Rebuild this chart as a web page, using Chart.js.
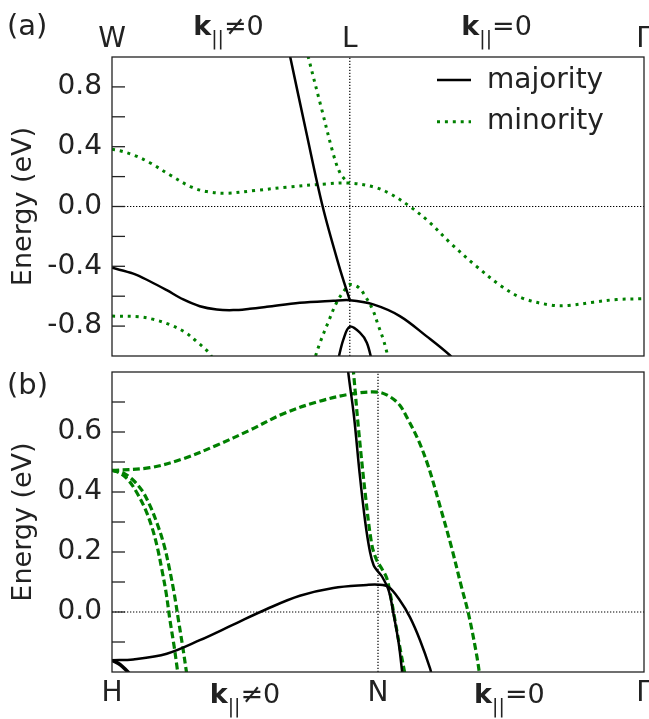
<!DOCTYPE html>
<html>
<head>
<meta charset="utf-8">
<script src="https://cdn.jsdelivr.net/npm/chart.js@4.4.1/dist/chart.umd.min.js"></script>
<style>
  html, body { margin: 0; padding: 0; background: #fff; }
  #wrap { position: relative; width: 649px; height: 719px; }
  .box { position: absolute; left: 0; width: 649px; }
  #boxA { top: 0; height: 362px; }
  #boxB { top: 362px; height: 357px; }
</style>
</head>
<body>
<div id="wrap">
  <div class="box" id="boxA"><canvas id="chartA"></canvas></div>
  <div class="box" id="boxB"><canvas id="chartB"></canvas></div>
</div>
<script>
// ---- panel (a): W - L - Gamma ----
const tickPosA = [0, 0.447, 1];
const tickTextA = ['W', 'L', 'Γ'];
const kLabelPosA = [0.219, 0.723];

// majority bands (k, E in eV)
const aMajLow = [[0,-0.41],[0.04,-0.449],[0.071,-0.5],[0.103,-0.56],[0.134,-0.622],[0.165,-0.667],[0.197,-0.689],[0.228,-0.693],[0.259,-0.684],[0.291,-0.671],[0.353,-0.644],[0.416,-0.631],[0.447,-0.627],[0.491,-0.655],[0.541,-0.733],[0.591,-0.867],[0.635,-0.995],[0.65,-1.06]];
const aMajSteep = [[0.332,1.05],[0.335,1.0],[0.365,0.5],[0.396,0.0],[0.427,-0.4],[0.447,-0.627]];
const aMajCap = [[0.424,-1.04],[0.435,-0.889],[0.447,-0.804],[0.466,-0.844],[0.479,-0.911],[0.489,-1.04]];
// minority bands
const aMinTop = [[0,0.383],[0.015,0.373],[0.042,0.342],[0.071,0.293],[0.109,0.211],[0.15,0.129],[0.178,0.1],[0.215,0.089],[0.269,0.107],[0.328,0.129],[0.402,0.151],[0.447,0.157],[0.494,0.129],[0.523,0.085],[0.56,0.0],[0.595,-0.1],[0.638,-0.251],[0.685,-0.4],[0.732,-0.533],[0.77,-0.611],[0.826,-0.66],[0.858,-0.662],[0.905,-0.64],[0.949,-0.622],[1,-0.617]];
const aMinSteep = [[0.366,1.06],[0.369,1.0],[0.393,0.667],[0.417,0.338],[0.429,0.222],[0.44,0.173],[0.447,0.157]];
const aMinLow = [[0,-0.733],[0.051,-0.738],[0.079,-0.756],[0.109,-0.791],[0.137,-0.84],[0.158,-0.9],[0.181,-0.973],[0.19,-1.02]];
const aMinPeak = [[0.378,-1.05],[0.391,-0.911],[0.406,-0.778],[0.422,-0.644],[0.438,-0.555],[0.447,-0.522],[0.463,-0.54],[0.476,-0.6],[0.49,-0.69],[0.5,-0.79],[0.51,-0.889],[0.517,-0.98],[0.52,-1.03]];

// ---- panel (b): H - N - Gamma ----
const tickPosB = [0, 0.5, 1];
const tickTextB = ['H', 'N', 'Γ'];
const kLabelPosB = [0.25, 0.747];

const bMajLow = [[0,-0.161],[0.04,-0.158],[0.103,-0.139],[0.165,-0.094],[0.228,-0.042],[0.291,0.01],[0.353,0.054],[0.416,0.08],[0.479,0.09],[0.5,0.091],[0.52,0.083],[0.541,0.039],[0.56,-0.017],[0.579,-0.094],[0.598,-0.189],[0.602,-0.22]];
const bMajSteep = [[0.441,0.86],[0.444,0.8],[0.455,0.65],[0.465,0.47],[0.476,0.3],[0.485,0.2],[0.492,0.155],[0.5,0.135],[0.507,0.12],[0.52,0.072],[0.529,-0.005],[0.539,-0.105],[0.546,-0.21]];
const bMajCorner = [[0,-0.161],[0.015,-0.175],[0.03,-0.2],[0.036,-0.215]];
const bMinTop = [[0,0.472],[0.071,0.481],[0.134,0.511],[0.197,0.556],[0.259,0.606],[0.322,0.661],[0.385,0.7],[0.447,0.726],[0.5,0.733],[0.523,0.717],[0.541,0.689],[0.554,0.65],[0.576,0.572],[0.595,0.483],[0.617,0.35],[0.638,0.217],[0.657,0.083],[0.67,-0.005],[0.685,-0.139],[0.692,-0.22]];
const bMinLeftA = [[0,0.472],[0.015,0.463],[0.031,0.439],[0.046,0.4],[0.062,0.345],[0.075,0.283],[0.085,0.217],[0.094,0.139],[0.102,0.061],[0.109,-0.028],[0.117,-0.117],[0.123,-0.194],[0.124,-0.21]];
const bMinLeftB = [[0,0.472],[0.018,0.466],[0.037,0.444],[0.056,0.406],[0.071,0.356],[0.085,0.294],[0.098,0.222],[0.108,0.144],[0.117,0.061],[0.125,-0.028],[0.133,-0.117],[0.14,-0.2],[0.142,-0.22]];
const bMinSteep = [[0.451,0.85],[0.454,0.798],[0.463,0.617],[0.476,0.395],[0.488,0.228],[0.497,0.175],[0.507,0.145],[0.516,0.115],[0.523,0.061],[0.532,-0.028],[0.541,-0.117],[0.551,-0.21]];

const kLabelRel = ['≠0', '=0'];
const legendNames = ['majority', 'minority'];

const FONT = '"DejaVu Sans", sans-serif';
const INK = '#222';
Chart.defaults.font.family = FONT;
Chart.defaults.color = INK;

const majStyle = { borderColor: '#000', borderWidth: 2.5, borderDash: [] };
const dotStyle = { borderColor: '#008000', borderWidth: 3, borderDash: [3, 4.9] };
const dashStyle = { borderColor: '#008000', borderWidth: 3.2, borderDash: [7, 3.5] };
const refStyle = { borderColor: '#000', borderWidth: 1.2, borderDash: [1.3, 1.7], tension: 0 };

function band(points, style, order) {
  return Object.assign({
    data: points.map(p => ({ x: p[0], y: p[1] })),
    pointRadius: 0,
    fill: false,
    tension: 0.35,
    order: order
  }, style);
}

function tickText(v, step, lo, hi) {
  const r = Math.round(v * 10) / 10;
  if (r <= lo + 1e-9 || r >= hi - 1e-9) return '';
  if (Math.abs(r / step - Math.round(r / step)) > 1e-6) return '';
  return (r === 0 ? 0 : r).toFixed(1);
}

function drawKLabel(ctx, cx, base, rel) {
  const big = '27px ' + FONT, bold = 'bold 27px ' + FONT, small = '19px ' + FONT;
  ctx.font = bold; const wk = ctx.measureText('k').width;
  ctx.font = small; const ws = ctx.measureText('||').width;
  ctx.font = big; const wr = ctx.measureText(rel).width;
  let x = cx - (wk + ws + wr) / 2;
  ctx.textAlign = 'left';
  ctx.font = bold; ctx.fillText('k', x, base); x += wk;
  ctx.font = small; ctx.fillText('||', x, base + 10); x += ws;
  ctx.font = big; ctx.fillText(rel, x, base);
}

const panelDecor = {
  id: 'panelDecor',
  afterDatasetsDraw(chart, args, o) {
    const { ctx, chartArea: a } = chart;
    const xs = chart.scales.x, ys = chart.scales.y;
    ctx.save();
    ctx.strokeStyle = INK;
    ctx.lineWidth = 1.3;
    ctx.strokeRect(a.left, a.top, a.right - a.left, a.bottom - a.top);
    // inward ticks on the energy axis
    ys.ticks.forEach(t => {
      if (t.value <= ys.min + 1e-9 || t.value >= ys.max - 1e-9) return;
      const py = ys.getPixelForValue(t.value);
      ctx.beginPath(); ctx.moveTo(a.left, py); ctx.lineTo(a.left + 13, py); ctx.stroke();
    });
    ctx.fillStyle = INK;
    ctx.textBaseline = 'alphabetic';
    o.kPos.forEach((k, i) => drawKLabel(ctx, xs.getPixelForValue(k), o.kBase, kLabelRel[i]));
    ctx.font = '29px ' + FONT;
    ctx.textAlign = 'left';
    ctx.fillText(o.letter, 7, o.letterBase);
    if (o.legend) {
      [majStyle, dotStyle].forEach((st, i) => {
        const ly = 80 + i * 41.7;
        ctx.save();
        ctx.strokeStyle = st.borderColor;
        ctx.lineWidth = st.borderWidth;
        ctx.setLineDash(st.borderDash);
        ctx.beginPath(); ctx.moveTo(437, ly); ctx.lineTo(471, ly); ctx.stroke();
        ctx.restore();
        ctx.font = '28px ' + FONT;
        ctx.fillText(legendNames[i], 487, ly + 7.5);
      });
    }
    ctx.restore();
  }
};

function makePanel(id, cfg) {
  return new Chart(document.getElementById(id), {
    type: 'line',
    data: { datasets: cfg.datasets },
    plugins: [panelDecor],
    options: {
      responsive: true,
      maintainAspectRatio: false,
      animation: false,
      devicePixelRatio: 1,
      events: [],
      layout: { padding: cfg.padding },
      plugins: {
        legend: { display: false },
        tooltip: { enabled: false },
        panelDecor: cfg.decor
      },
      scales: {
        x: {
          type: 'linear',
          position: cfg.xPos,
          min: 0, max: 1,
          grid: { display: false, drawTicks: false },
          border: { display: false },
          afterBuildTicks: s => { s.ticks = cfg.tickPos.map(v => ({ value: v })); },
          afterFit: s => { s.height = cfg.xHeight; s.paddingLeft = 0; s.paddingRight = 0; },
          ticks: {
            autoSkip: false, maxRotation: 0, padding: cfg.xPad,
            font: { size: 28 }, color: INK,
            callback: (v, i) => cfg.tickText[i]
          }
        },
        y: {
          type: 'linear',
          min: cfg.yRange[0], max: cfg.yRange[1],
          grid: { display: false, drawTicks: false },
          border: { display: false },
          afterFit: s => { s.width = 112; s.paddingTop = 0; s.paddingBottom = 0; },
          title: { display: true, text: 'Energy (eV)', font: { size: 27 }, color: INK, padding: { top: 7.5, bottom: 0 } },
          ticks: {
            autoSkip: false, stepSize: cfg.yStep, padding: 10,
            font: { size: 28 }, color: INK,
            callback: v => tickText(v, cfg.yLabelStep, cfg.yRange[0], cfg.yRange[1])
          }
        }
      }
    }
  });
}

makePanel('chartA', {
  datasets: [
    band(aMajLow, majStyle, 1), band(aMajSteep, majStyle, 1), band(aMajCap, majStyle, 1),
    band(aMinTop, dotStyle, 2), band(aMinSteep, dotStyle, 2), band(aMinLow, dotStyle, 2), band(aMinPeak, dotStyle, 2),
    band([[0, 0], [1, 0]], refStyle, 3), band([[tickPosA[1], -1], [tickPosA[1], 1]], refStyle, 3)
  ],
  padding: { left: 0, right: 5, top: 0, bottom: 6 },
  xPos: 'top', xHeight: 57, xPad: 0,
  tickPos: tickPosA, tickText: tickTextA,
  yRange: [-1, 1], yStep: 0.2, yLabelStep: 0.4,
  decor: { kPos: kLabelPosA, kBase: 35, letter: '(a)', letterBase: 35, legend: true }
});

makePanel('chartB', {
  datasets: [
    band(bMajLow, majStyle, 1), band(bMajSteep, majStyle, 1), band(bMajCorner, Object.assign({}, majStyle, { borderWidth: 3.5 }), 1),
    band(bMinTop, dashStyle, 2), band(bMinLeftA, dashStyle, 2), band(bMinLeftB, dashStyle, 2), band(bMinSteep, dashStyle, 2),
    band([[0, 0], [1, 0]], refStyle, 3), band([[tickPosB[1], -0.2], [tickPosB[1], 0.8]], refStyle, 3)
  ],
  padding: { left: 0, right: 5, top: 10, bottom: 0 },
  xPos: 'bottom', xHeight: 47, xPad: 4.5,
  tickPos: tickPosB, tickText: tickTextB,
  yRange: [-0.2, 0.8], yStep: 0.1, yLabelStep: 0.2,
  decor: { kPos: kLabelPosB, kBase: 341, letter: '(b)', letterBase: 32, legend: false }
});
</script>
</body>
</html>
